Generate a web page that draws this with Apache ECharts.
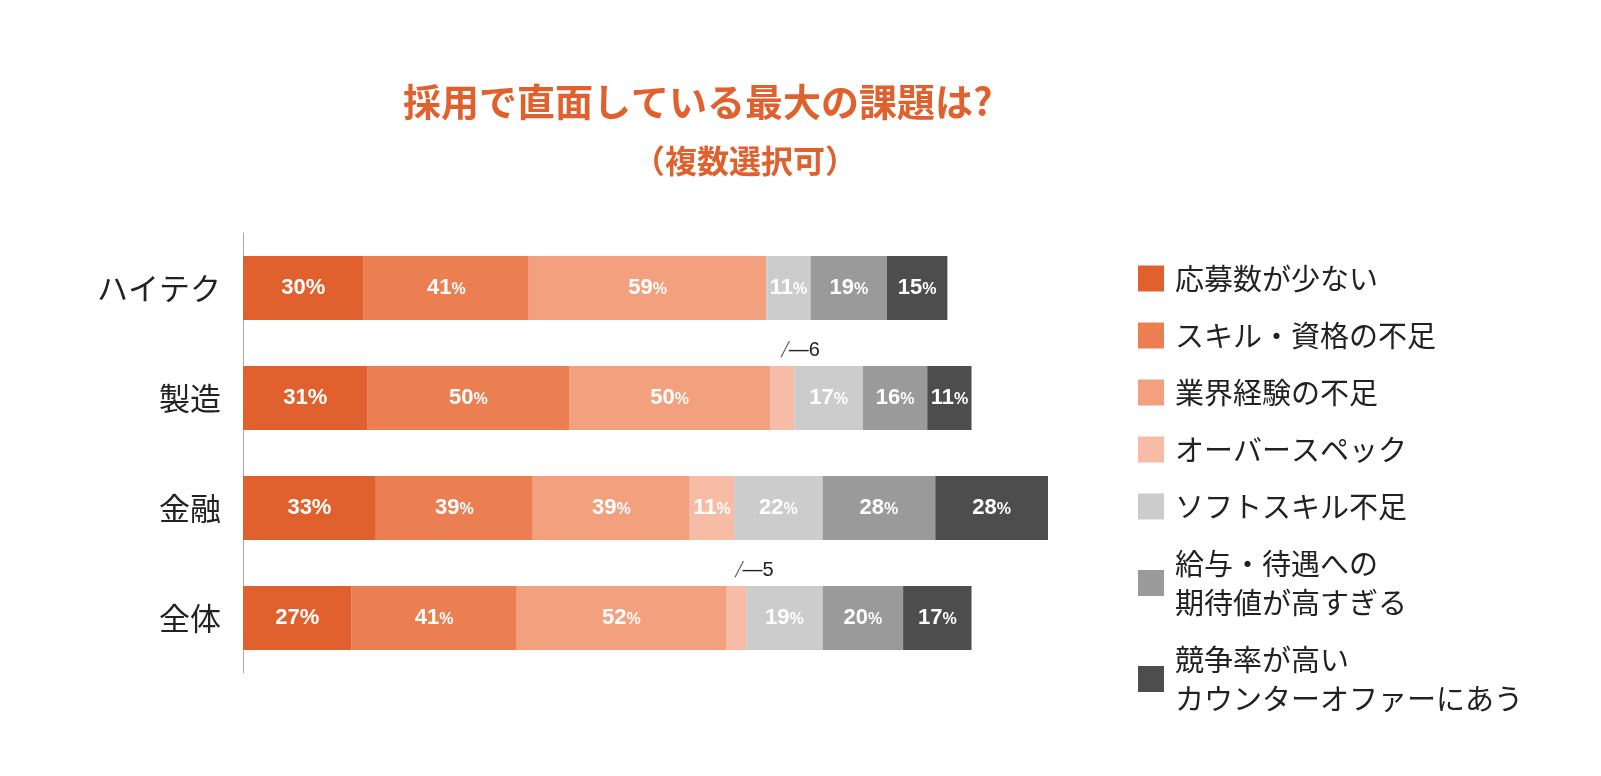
<!DOCTYPE html>
<html>
<head>
<meta charset="utf-8">
<script src="https://cdn.jsdelivr.net/npm/echarts@6/dist/echarts.min.js"></script>
<style>html,body{margin:0;padding:0;background:#fff}#chart{width:1601px;height:776px}</style>
</head>
<body>
<div id="chart"></div>
<script>
// categories (top to bottom)
var categories = ['ハイテク', '製造', '金融', '全体'];
var seriesNames = ['応募数が少ない', 'スキル・資格の不足', '業界経験の不足', 'オーバースペック',
    'ソフトスキル不足', '給与・待遇への\n期待値が高すぎる', '競争率が高い\nカウンターオファーにあう'];
var colors = ['#e0612e', '#ec7f52', '#f2a07e', '#f6bca6', '#cccccc', '#9a9a9a', '#4d4d4d'];
// values per series, in category order
var fewApplicants = [30, 31, 33, 27];
var skillShortage = [41, 50, 39, 41];
var industryExp = [59, 50, 39, 52];
var overSpec = [0, 6, 11, 5];
var softSkill = [11, 17, 22, 19];
var salaryExpect = [19, 16, 28, 20];
var competition = [15, 11, 28, 17];
var values = [fewApplicants, skillShortage, industryExp, overSpec, softSkill, salaryExpect, competition];

var chart = echarts.init(document.getElementById('chart'));
var font = '"Noto Sans CJK JP", sans-serif';

var series = values.map(function (arr, si) {
    return {
        name: seriesNames[si],
        type: 'bar',
        stack: 'all',
        barWidth: 64,
        itemStyle: { color: colors[si] },
        data: arr.map(function (v) {
            var d = { value: v };
            if (v === 0) { d.label = { show: false }; }
            else if (v < 8) {
                d.label = {
                    show: true, position: 'top', distance: 6, offset: [18, 0],
                    formatter: '{s|╱}{n|—' + v + '}',
                    rich: { s: { fontSize: 14, color: '#555' }, n: { fontSize: 20, color: '#222', fontFamily: 'Arial, sans-serif' } }
                };
            }
            return d;
        }),
        label: {
            show: true,
            position: 'inside',
            formatter: function (p) { return '{v|' + p.value + '}{p|%}'; },
            rich: {
                v: { fontSize: 22, fontWeight: 'bold', color: '#fff', fontFamily: 'Arial, sans-serif' },
                p: { fontSize: si === 0 ? 22 : 16, fontWeight: 'bold', color: '#fff', fontFamily: 'Arial, sans-serif', padding: [si === 0 ? 0 : 3, 0, 0, 0] }
            }
        }
    };
});

var option = {
    animation: false,
    title: [{
        text: '採用で直面している最大の課題は?',
        left: 398, top: 78,
        textStyle: { color: '#e0612e', fontSize: 38, fontWeight: 'bold', fontFamily: font }
    }, {
        text: '（複数選択可）',
        left: 628, top: 140,
        textStyle: { color: '#e0612e', fontSize: 32, fontWeight: 'bold', fontFamily: font }
    }],
    legend: {
        orient: 'vertical',
        left: 1133, top: 254,
        itemWidth: 26, itemHeight: 26, itemGap: 18,
        icon: 'rect',
        data: seriesNames,
        selectedMode: false,
        textStyle: { fontSize: 29, color: '#222', fontFamily: font, lineHeight: 39, padding: [0, 0, 0, 6] }
    },
    grid: { left: 243, width: 805, top: 233, height: 440 },
    xAxis: { type: 'value', min: 0, max: 200, show: false },
    yAxis: {
        type: 'category',
        inverse: true,
        data: categories,
        axisLine: { lineStyle: { color: '#aaa' } },
        axisTick: { show: false },
        axisLabel: { fontSize: 31, color: '#222', fontFamily: font, margin: 22 }
    },
    series: series
};
chart.setOption(option);
</script>
</body>
</html>
